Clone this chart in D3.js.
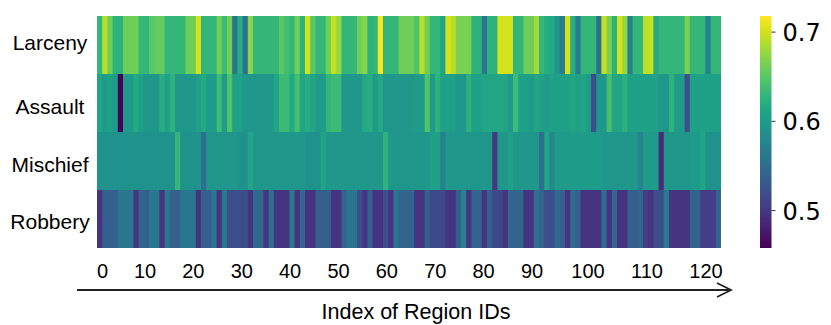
<!DOCTYPE html>
<html><head><meta charset="utf-8">
<script src="https://cdn.jsdelivr.net/npm/d3@7"></script>
<style>html,body{margin:0;padding:0;background:#fff}svg{display:block}</style>
</head><body><svg id="c" width="831" height="325"></svg>
<script>
const categories = ["Larceny","Assault","Mischief","Robbery"];
const larceny = [
.63,.69,.66,.625,.625,.66,.66,.66,.63,.63,
.65,.655,.655,.63,.63,.63,.63,.66,.66,.70,
.63,.63,.63,.66,.635,.66,.56,.62,.555,.67,
.63,.63,.63,.63,.63,.65,.64,.63,.66,.625,
.70,.65,.63,.63,.66,.695,.675,.63,.63,.63,
.66,.67,.625,.63,.715,.63,.63,.63,.66,.66,
.66,.645,.69,.66,.63,.63,.61,.70,.69,.665,
.665,.665,.625,.625,.56,.625,.625,.70,.70,.70,
.63,.63,.66,.66,.68,.63,.62,.615,.595,.565,
.70,.62,.565,.63,.63,.63,.555,.695,.665,.625,
.70,.675,.57,.63,.63,.69,.695,.615,.63,.63,
.63,.63,.63,.665,.63,.63,.63,.57,.63,.63];
const assault = [
.61,.60,.605,.60,.46,.60,.60,.615,.605,.595,
.595,.595,.62,.605,.625,.595,.595,.595,.595,.605,
.615,.60,.60,.635,.60,.645,.605,.605,.595,.595,
.595,.595,.595,.595,.61,.635,.635,.615,.64,.61,
.62,.61,.60,.60,.63,.635,.635,.595,.595,.595,
.595,.615,.62,.60,.615,.595,.595,.595,.595,.595,
.595,.60,.60,.645,.60,.625,.605,.605,.605,.595,
.595,.625,.605,.605,.61,.61,.61,.61,.61,.60,
.635,.605,.605,.60,.61,.605,.60,.605,.605,.605,
.605,.61,.605,.61,.60,.52,.595,.595,.64,.61,
.61,.625,.605,.605,.605,.605,.605,.605,.595,.595,
.625,.60,.60,.52,.605,.605,.605,.605,.605,.605];
const mischief = [
.59,.59,.59,.59,.59,.59,.59,.59,.59,.59,
.59,.59,.59,.59,.59,.63,.59,.59,.59,.59,
.55,.595,.595,.595,.595,.595,.595,.59,.59,.61,
.595,.595,.595,.595,.595,.595,.595,.595,.595,.595,
.59,.59,.59,.61,.595,.595,.595,.595,.595,.595,
.595,.595,.595,.595,.595,.625,.595,.595,.595,.595,
.595,.595,.595,.595,.605,.605,.57,.595,.595,.595,
.595,.595,.595,.595,.595,.595,.50,.595,.595,.605,
.595,.595,.595,.595,.595,.55,.61,.58,.60,.60,
.60,.60,.60,.60,.60,.60,.60,.595,.595,.595,
.595,.595,.595,.595,.575,.60,.60,.60,.49,.595,
.595,.595,.595,.595,.60,.60,.61,.59,.59,.59];
const robbery = [
.497,.535,.535,.535,.56,.56,.56,.497,.54,.535,
.56,.56,.497,.56,.54,.535,.56,.56,.56,.497,
.535,.535,.56,.497,.56,.52,.52,.52,.52,.497,
.545,.545,.497,.55,.497,.497,.497,.56,.497,.54,
.497,.497,.535,.535,.535,.497,.497,.54,.56,.56,
.52,.497,.535,.497,.497,.52,.497,.56,.54,.54,
.54,.497,.497,.535,.515,.515,.515,.497,.497,.535,
.57,.497,.54,.54,.497,.535,.515,.515,.497,.54,
.54,.54,.497,.497,.55,.54,.52,.52,.545,.535,
.497,.55,.535,.497,.497,.497,.497,.55,.497,.54,
.497,.497,.535,.535,.54,.505,.497,.52,.52,.565,
.497,.497,.497,.497,.54,.54,.505,.505,.505,.54];
const rows = [larceny, assault, mischief, robbery];
const xTicks = [0,10,20,30,40,50,60,70,80,90,100,110,120];
const cbTicks = [0.5,0.6,0.7];
const axisTitle = "Index of Region IDs";

const svg = d3.select("#c");
const vmin = 0.4575, vmax = 0.7175;
const color = d3.scaleSequential(d3.interpolateViridis).domain([vmin, vmax]);
const x = d3.scaleBand().domain(d3.range(120)).range([97,721]).paddingInner(0).paddingOuter(0);
const y = d3.scaleBand().domain(categories).range([16,248]);

rows.forEach((vals,ri)=>{
  svg.append("g").selectAll("rect").data(vals).join("rect")
    .attr("x",(d,i)=>x(i)).attr("y",y(categories[ri]))
    .attr("width",(d,i)=>x.bandwidth()+(i<vals.length-1?1:0)).attr("height",y.bandwidth())
    .attr("fill",d=>color(d));
});

const sans = "'Liberation Sans', Arial, sans-serif";
const labelNudge = {Larceny:-2.5, Assault:4, Mischief:4, Robbery:2.5};
svg.append("g").selectAll("text").data(categories).join("text")
  .attr("x",50).attr("y",d=>y(d)+y.bandwidth()/2+labelNudge[d]+7)
  .attr("text-anchor","middle").attr("font-family",sans).attr("font-size",21).attr("fill","#000")
  .text(d=>d);

const tickX = d3.scaleLinear().domain([0,10,90,100,120]).range([102.5,145,532,588,706]);
svg.append("g").selectAll("text").data(xTicks).join("text")
  .attr("x",d=>tickX(d)).attr("y",278)
  .attr("text-anchor","middle").attr("font-family",sans).attr("font-size",20).attr("fill","#000")
  .text(d=>d);

const arrow = d3.path();
arrow.moveTo(77,290); arrow.lineTo(731,290);
arrow.moveTo(717,283); arrow.lineTo(731,290); arrow.lineTo(717,297);
svg.append("path").attr("d",arrow.toString()).attr("fill","none").attr("stroke","#222").attr("stroke-width",1.8);

svg.append("text").attr("x",416).attr("y",319).attr("text-anchor","middle")
  .attr("font-family",sans).attr("font-size",21.5).attr("fill","#000").text(axisTitle);

const cbY = d3.scaleLinear().domain([vmin,vmax]).range([248,16]);
const defs = svg.append("defs");
const grad = defs.append("linearGradient").attr("id","vg").attr("x1",0).attr("x2",0).attr("y1",1).attr("y2",0);
d3.range(0,1.001,0.05).forEach(t=>grad.append("stop").attr("offset",t).attr("stop-color",d3.interpolateViridis(t)));
svg.append("rect").attr("x",760).attr("y",16).attr("width",11.5).attr("height",232).attr("fill","url(#vg)");
const cbAxis = d3.axisRight(cbY).tickValues(cbTicks).tickFormat(d3.format(".1f")).tickSize(4).tickPadding(7);
const cbG = svg.append("g").attr("transform","translate(771.5,0)").call(cbAxis);
cbG.select(".domain").remove();
cbG.selectAll("line").attr("stroke","#333").attr("stroke-width",1);
cbG.selectAll("text").attr("font-family","'DejaVu Sans', sans-serif").attr("font-size",24).attr("fill","#000").attr("dy","0.38em");
</script></body></html>
